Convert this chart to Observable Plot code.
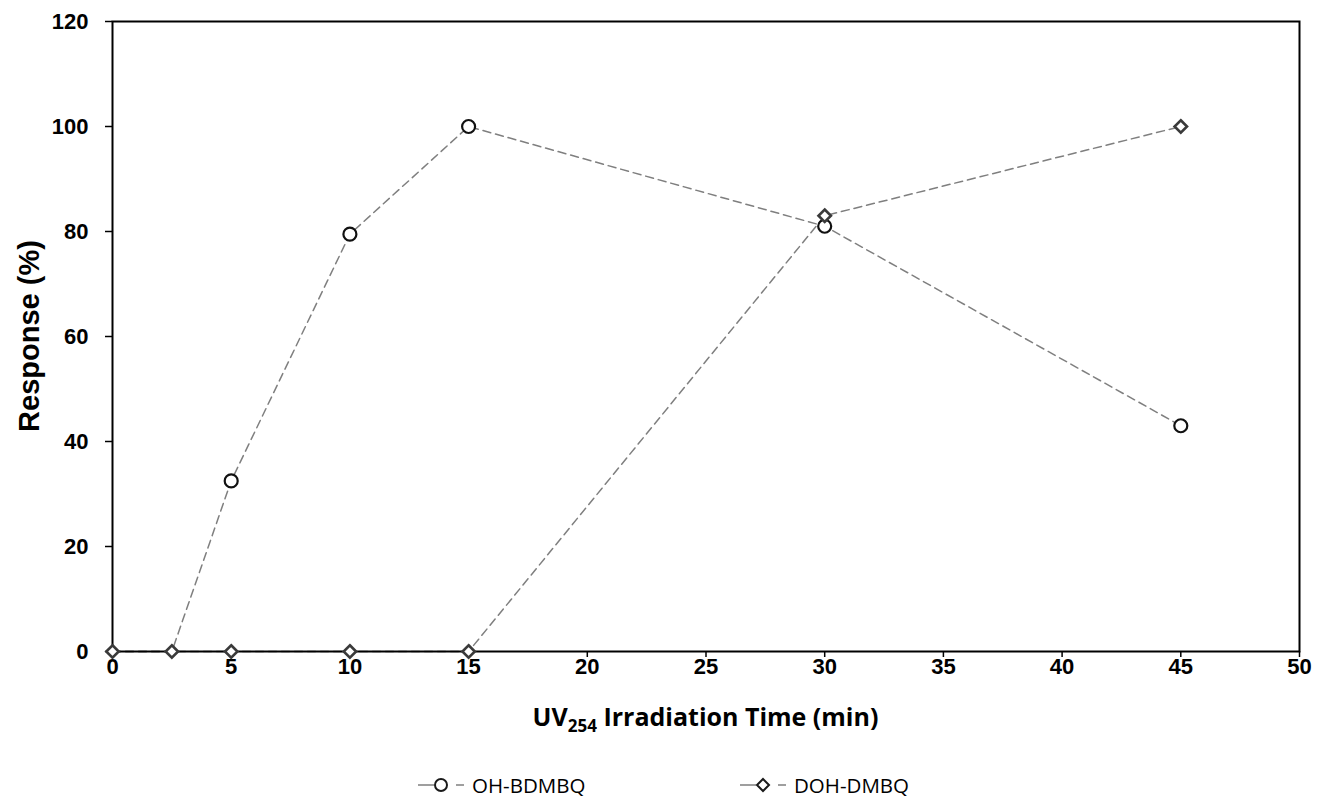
<!DOCTYPE html>
<html>
<head>
<meta charset="utf-8">
<script src="https://cdn.jsdelivr.net/npm/d3@7"></script>
<script src="https://cdn.jsdelivr.net/npm/@observablehq/plot@0.6"></script>
<style>
  html, body { margin: 0; padding: 0; background: #fff; }
  #chart { width: 1318px; }
  #legend { width: 1318px; height: 60px; position: relative; font-family: "Open Sans", sans-serif; font-size: 20.5px; color: #000; }
  .item { position: absolute; top: 26px; display: flex; align-items: center; }
  .item svg { margin-right: 4px; }
</style>
</head>
<body>
<div id="chart"></div>
<div id="legend"></div>
<script>
const times = [0, 2.5, 5, 10, 15, 30, 45];
const ohBdmbq = [0, 0, 32.5, 79.5, 100, 81, 43];
const dohDmbq = [0, 0, 0, 0, 0, 83, 100];
const seriesNames = ["OH-BDMBQ", "DOH-DMBQ"];
const xTicks = [0, 5, 10, 15, 20, 25, 30, 35, 40, 45, 50];
const yTicks = [0, 20, 40, 60, 80, 100, 120];

const s1 = times.map((t, i) => ({t, v: ohBdmbq[i]}));
const s2 = times.map((t, i) => ({t, v: dohDmbq[i]}));

const lineStyle = {stroke: "#7f7f7f", strokeWidth: 1.5, strokeDasharray: "8,5"};

const chart = Plot.plot({
  width: 1318,
  height: 745,
  marginLeft: 112,
  marginRight: 19,
  marginTop: 21,
  marginBottom: 94,
  style: {fontFamily: "'Liberation Sans', Arial, sans-serif", fontSize: "22px", fontWeight: "bold", background: "#fff", color: "#000"},
  x: {domain: [0, 50]},
  y: {domain: [0, 120]},
  marks: [
    Plot.axisY({ticks: yTicks, tickSize: 7, tickPadding: 17, label: null, stroke: "#000", strokeWidth: 1.5}),
    Plot.axisX({ticks: xTicks, tickSize: 6, tickPadding: 1, label: null, stroke: "#000", strokeWidth: 1.5}),
    Plot.line(s1, {x: "t", y: "v", ...lineStyle}),
    Plot.line(s2, {x: "t", y: "v", ...lineStyle}),
    Plot.frame({stroke: "#000", strokeWidth: 2}),
    Plot.dot(s1, {x: "t", y: "v", filter: (d, i) => i >= 2, symbol: "circle", r: 6.5, fill: "#fff", stroke: "#111", strokeWidth: 2.2}),
    Plot.dot(s2, {x: "t", y: "v", symbol: "diamond2", r: 5.6, fill: "#fff", stroke: "#3a3a3a", strokeWidth: 2.6})
  ]
});
document.getElementById("chart").appendChild(chart);

// axis titles
const svg = d3.select(chart);
const cx = (112 + 1318 - 19) / 2;
const xt = svg.append("text")
  .attr("x", cx).attr("y", 726)
  .attr("text-anchor", "middle")
  .attr("font-family", "'Open Sans', sans-serif")
  .attr("font-weight", "bold")
  .attr("font-size", 25)
  .attr("fill", "#000");
xt.append("tspan").text("UV");
xt.append("tspan").text("254").attr("font-size", 17).attr("dy", 6);
xt.append("tspan").text(" Irradiation Time (min)").attr("dy", -6);

svg.append("text")
  .attr("transform", `translate(39, ${(21 + 651) / 2}) rotate(-90)`)
  .attr("text-anchor", "middle")
  .attr("font-family", "'Liberation Sans', Arial, sans-serif")
  .attr("font-weight", "bold")
  .attr("font-size", 29)
  .attr("fill", "#000")
  .text("Response (%)");

// legend
const legend = d3.select("#legend");
const items = [
  {name: seriesNames[0], left: 418, sym: "circle"},
  {name: seriesNames[1], left: 740, sym: "diamond"}
];
items.forEach(it => {
  const div = legend.append("div").attr("class", "item").style("left", it.left + "px");
  const s = div.append("svg").attr("width", 50).attr("height", 20);
  s.append("line").attr("x1", 0).attr("x2", 16).attr("y1", 10).attr("y2", 10).attr("stroke", "#7f7f7f").attr("stroke-width", 1.5);
  s.append("line").attr("x1", 38).attr("x2", 46).attr("y1", 10).attr("y2", 10).attr("stroke", "#7f7f7f").attr("stroke-width", 1.5);
  if (it.sym === "circle") {
    s.append("circle").attr("cx", 23).attr("cy", 10).attr("r", 6).attr("fill", "#fff").attr("stroke", "#1a1a1a").attr("stroke-width", 2);
  } else {
    s.append("path").attr("d", "M23,4L29,10L23,16L17,10Z").attr("fill", "#fff").attr("stroke", "#1a1a1a").attr("stroke-width", 2);
  }
  div.append("span").text(it.name);
});
</script>
</body>
</html>
